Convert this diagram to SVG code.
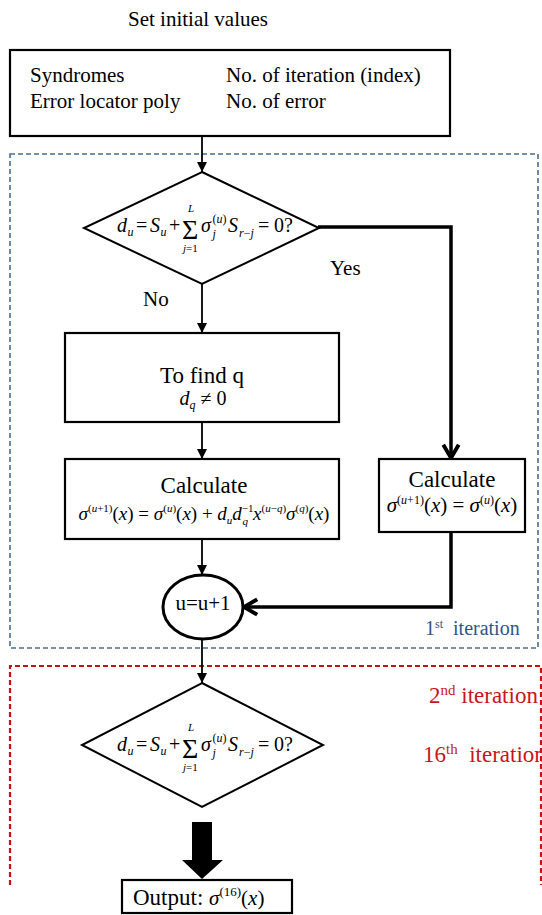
<svg xmlns="http://www.w3.org/2000/svg" width="542" height="915" viewBox="0 0 542 915">
<style>
text{font-family:"Liberation Serif","Times New Roman",serif;fill:#000}
.t21{font-size:21px}
.t23{font-size:23px}
.m{font-size:20px}
.i{font-style:italic}
.s{font-size:12px}
.box{fill:#fff;stroke:#000;stroke-width:2.2}
.thin{fill:none;stroke:#000;stroke-width:1.8}
.thick{fill:none;stroke:#000;stroke-width:3.5}
.blue{fill:#2f5587}
.red{fill:#c8141c}
</style>
<defs>
<marker id="ah" markerUnits="userSpaceOnUse" markerWidth="10" markerHeight="10" viewBox="0 0 10 10" refX="10" refY="5" orient="auto"><path d="M0,0 L10,5 L0,10 z" fill="#000"/></marker>
<marker id="chev" markerUnits="userSpaceOnUse" markerWidth="22" markerHeight="22" viewBox="-4 -10 20 20" refX="12" refY="0" orient="auto"><path d="M0,-7 L12,0 L0,7" fill="none" stroke="#000" stroke-width="3.5"/></marker>
</defs>
<rect width="542" height="915" fill="#fff"/>

<!-- iteration frames -->
<rect id="iter1" x="10" y="154" width="528" height="494" fill="none" stroke="#4a6d94" stroke-width="1.6" stroke-dasharray="5 3"/>
<path id="iter2" d="M10,885 V666 H541 V885" fill="none" stroke="#cc1111" stroke-width="2.2" stroke-dasharray="5 3"/>

<text class="t21" x="128" y="26">Set initial values</text>

<g id="init">
<rect class="box" x="10" y="50" width="440" height="86"/>
<text class="t21" x="30" y="82">Syndromes</text>
<text class="t21" x="30" y="108">Error locator poly</text>
<text class="t21" x="226" y="82">No. of iteration (index)</text>
<text class="t21" x="226" y="108">No. of error</text>
</g>

<g id="connectors">
<line class="thin" x1="202" y1="136" x2="202" y2="172" marker-end="url(#ah)"/>
<line class="thin" x1="202" y1="284" x2="202" y2="333" marker-end="url(#ah)"/>
<line class="thin" x1="202" y1="422" x2="202" y2="459" marker-end="url(#ah)"/>
<line class="thin" x1="202" y1="539" x2="202" y2="575" marker-end="url(#ah)"/>
<line class="thin" x1="202" y1="639" x2="202" y2="683" marker-end="url(#ah)"/>
<path class="thick" d="M318,227 H451 V458" marker-end="url(#chev)"/>
<path class="thick" d="M451,532 V607 H244" marker-end="url(#chev)"/>
<polygon points="192,822 212,822 212,860 223,860 202,879 182,860 192,860" fill="#000"/>
<text class="t21" x="330" y="275">Yes</text>
<text class="t21" x="143" y="306">No</text>
</g>

<g id="decision1">
<polygon points="202,172 319,228 202,284 84,228" fill="#fff" stroke="#000" stroke-width="2"/>
<g id="formula1">
<text class="m i" x="117" y="232">d</text>
<text class="s i" x="127.5" y="236">u</text>
<text class="m" x="136" y="232">=</text>
<text class="m i" x="150" y="232">S</text>
<text class="s i" x="160.5" y="236">u</text>
<text class="m" x="169" y="232">+</text>
<text x="182" y="239" style="font-size:28px">Σ</text>
<text class="i" x="188" y="212" style="font-size:11px">L</text>
<text x="183" y="252" style="font-size:11px"><tspan class="i">j</tspan>=1</text>
<text class="m i" x="201" y="232">σ</text>
<text class="s" x="212.5" y="223">(<tspan class="i">u</tspan>)</text>
<text class="s i" x="212.5" y="238">j</text>
<text class="m i" x="228" y="232">S</text>
<text class="s i" x="239" y="237">r<tspan style="font-style:normal">−</tspan>j</text>
<text class="m" x="258" y="232">=</text>
<text class="m" x="274" y="232">0?</text>
</g>
</g>

<g id="findq">
<rect class="box" x="65" y="333" width="274" height="89"/>
<text class="t23" x="202" y="383" text-anchor="middle">To find q</text>
<text class="m" x="203" y="405" text-anchor="middle"><tspan class="i">d</tspan><tspan class="s i" dy="4">q</tspan><tspan dy="-4"> ≠ 0</tspan></text>
</g>

<g id="calc1">
<rect class="box" x="65" y="459" width="274" height="80"/>
<text class="t23" x="204" y="493" text-anchor="middle">Calculate</text>
<text x="204" y="520" text-anchor="middle" style="font-size:19px"><tspan class="i">σ</tspan><tspan style="font-size:11px" dy="-8">(<tspan class="i">u</tspan>+1)</tspan><tspan dy="8">(</tspan><tspan class="i">x</tspan><tspan>) = </tspan><tspan class="i">σ</tspan><tspan style="font-size:11px" dy="-8">(<tspan class="i">u</tspan>)</tspan><tspan dy="8">(</tspan><tspan class="i">x</tspan><tspan>) + </tspan><tspan class="i">d</tspan><tspan class="i" style="font-size:11px" dy="4">u</tspan><tspan class="i" dy="-4">d</tspan><tspan style="font-size:11px" dy="-8">−1</tspan><tspan class="i" style="font-size:11px" dx="-11" dy="13">q</tspan><tspan class="i" dx="5" dy="-5">x</tspan><tspan style="font-size:11px" dy="-8">(<tspan class="i">u</tspan>−<tspan class="i">q</tspan>)</tspan><tspan class="i" dy="8">σ</tspan><tspan style="font-size:11px" dy="-8">(<tspan class="i">q</tspan>)</tspan><tspan dy="8">(</tspan><tspan class="i">x</tspan><tspan>)</tspan></text>
</g>

<g id="calc2">
<rect class="box" x="379" y="459" width="146" height="73"/>
<text class="t23" x="452" y="487" text-anchor="middle">Calculate</text>
<text x="452" y="512" text-anchor="middle" style="font-size:21px"><tspan class="i">σ</tspan><tspan style="font-size:12px" dy="-8">(<tspan class="i">u</tspan>+1)</tspan><tspan dy="8">(</tspan><tspan class="i">x</tspan><tspan>) = </tspan><tspan class="i">σ</tspan><tspan style="font-size:12px" dy="-8">(<tspan class="i">u</tspan>)</tspan><tspan dy="8">(</tspan><tspan class="i">x</tspan><tspan>)</tspan></text>
</g>

<g id="increment">
<ellipse cx="203" cy="607" rx="40" ry="32" fill="#fff" stroke="#000" stroke-width="3"/>
<text class="t21" x="203" y="610" text-anchor="middle">u=u+1</text>
</g>

<text class="blue" x="425" y="635" style="font-size:20px" xml:space="preserve">1<tspan dy="-7" style="font-size:12px">st</tspan><tspan dy="7">  iteration</tspan></text>
<text class="red" x="429" y="703" style="font-size:23px">2<tspan dy="-8" style="font-size:15px">nd</tspan><tspan dy="8"> iteration</tspan></text>
<text class="red" x="423" y="762" style="font-size:23px" xml:space="preserve">16<tspan dy="-8" style="font-size:15px">th</tspan><tspan dy="8">  iteration</tspan></text>

<g id="decision2">
<polygon points="202,683 323,745 202,807 82,745" fill="#fff" stroke="#000" stroke-width="2"/>
<use href="#formula1" transform="translate(0,519)"/>
</g>

<g id="output">
<rect class="box" x="122" y="880" width="170" height="33"/>
<text class="t23" x="133" y="905">Output: <tspan class="i" style="font-size:21px">σ</tspan><tspan style="font-size:13px" dy="-9">(16)</tspan><tspan style="font-size:21px" dy="9">(</tspan><tspan class="i" style="font-size:21px">x</tspan><tspan style="font-size:21px">)</tspan></text>
</g>
</svg>
